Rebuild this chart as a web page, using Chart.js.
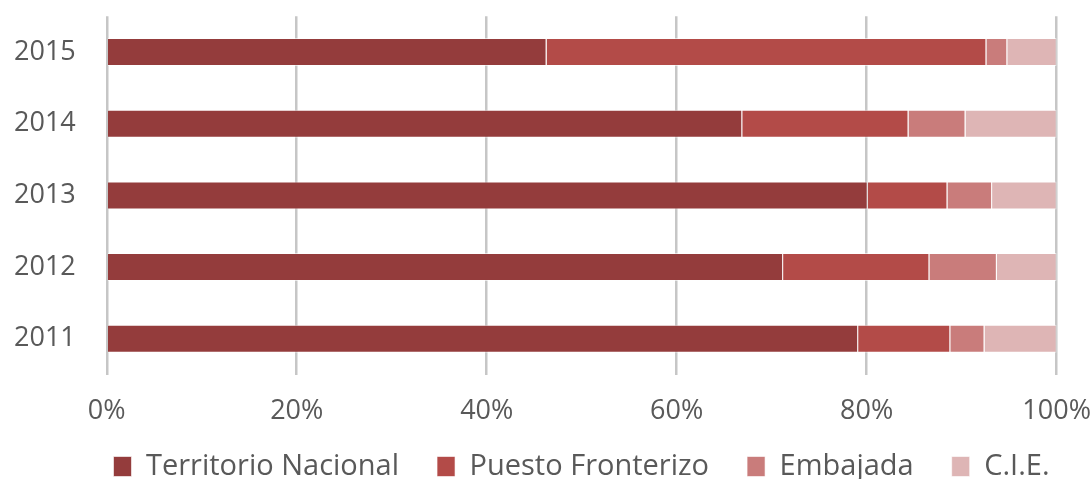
<!DOCTYPE html>
<html>
<head>
<meta charset="utf-8">
<script src="https://cdn.jsdelivr.net/npm/chart.js@4/dist/chart.umd.min.js"></script>
<style>
  html, body { margin: 0; padding: 0; background: #fff; }
  #wrap { width: 1091px; height: 479px; }
</style>
</head>
<body>
<div id="wrap"><canvas id="chart"></canvas></div>
<script>
'use strict';

let years = ['2015', '2014', '2013', '2012', '2011'];
let territorioNacional = [46.3, 66.9, 80.1, 71.2, 79.1];
let puestoFronterizo = [46.3, 17.5, 8.4, 15.4, 9.7];
let embajada = [2.2, 6.0, 4.7, 7.1, 3.6];
let cie = [5.2, 9.6, 6.8, 6.3, 7.6];
let xTicks = [0, 20, 40, 60, 80, 100];

let canvasElem = document.getElementById('chart');

// the legend needs wide gaps between items but little room above them,
// so nudge it up (and a bit right, like the original) once layout is done
let legendNudge = {
  id: 'legendNudge',
  afterLayout: function (chart) {
    chart.legend.top -= 14;
    chart.legend.bottom -= 14;
    chart.legend.left += 29;
    chart.legend.right += 29;
  }
};

function renderChart() {
  let textColor = '#595959';
  let font = { family: 'Open Sans', size: 27 };

  let chartResults = {
    type: 'bar',
    data: {
      labels: years,
      datasets: [{
        label: 'Territorio Nacional',
        data: territorioNacional,
        backgroundColor: '#943c3c'
      },
      {
        label: 'Puesto Fronterizo',
        data: puestoFronterizo,
        backgroundColor: '#b34b48'
      },
      {
        label: 'Embajada',
        data: embajada,
        backgroundColor: '#c97c7b'
      },
      {
        label: 'C.I.E.',
        data: cie,
        backgroundColor: '#deb5b5'
      }]
    },
    options: {
      indexAxis: 'y',
      responsive: true,
      maintainAspectRatio: false,
      animation: false,
      datasets: {
        bar: {
          barPercentage: 0.65,
          categoryPercentage: 0.6,
          borderWidth: 1,
          borderColor: 'rgba(255,255,255,0.6)'
        }
      },
      layout: {
        padding: { left: 14, right: 0, top: 3, bottom: -26 }
      },
      scales: {
        x: {
          stacked: true,
          min: 0,
          max: 100,
          afterBuildTicks: function (axis) {
            axis.ticks = xTicks.map(function (v) { return { value: v }; });
          },
          ticks: {
            color: textColor,
            font: font,
            padding: 0,
            maxRotation: 0,
            callback: function (v) { return v + '%'; }
          },
          grid: {
            color: '#c6c6c6',
            lineWidth: 2.5,
            drawTicks: true,
            tickLength: 21,
            tickColor: 'rgba(0,0,0,0)'
          },
          border: { display: false }
        },
        y: {
          stacked: true,
          ticks: {
            color: textColor,
            font: font,
            padding: 0
          },
          grid: {
            display: true,
            drawOnChartArea: false,
            drawTicks: true,
            tickLength: 31,
            tickColor: 'rgba(0,0,0,0)'
          },
          border: { display: false }
        }
      },
      plugins: {
        legend: {
          position: 'bottom',
          labels: {
            color: textColor,
            font: { family: 'Open Sans', size: 29 },
            boxWidth: 18,
            boxHeight: 20,
            padding: 38
          }
        },
        tooltip: { enabled: false }
      }
    },
    plugins: [legendNudge]
  };
  new Chart(canvasElem, chartResults);
}

renderChart();
</script>
</body>
</html>
